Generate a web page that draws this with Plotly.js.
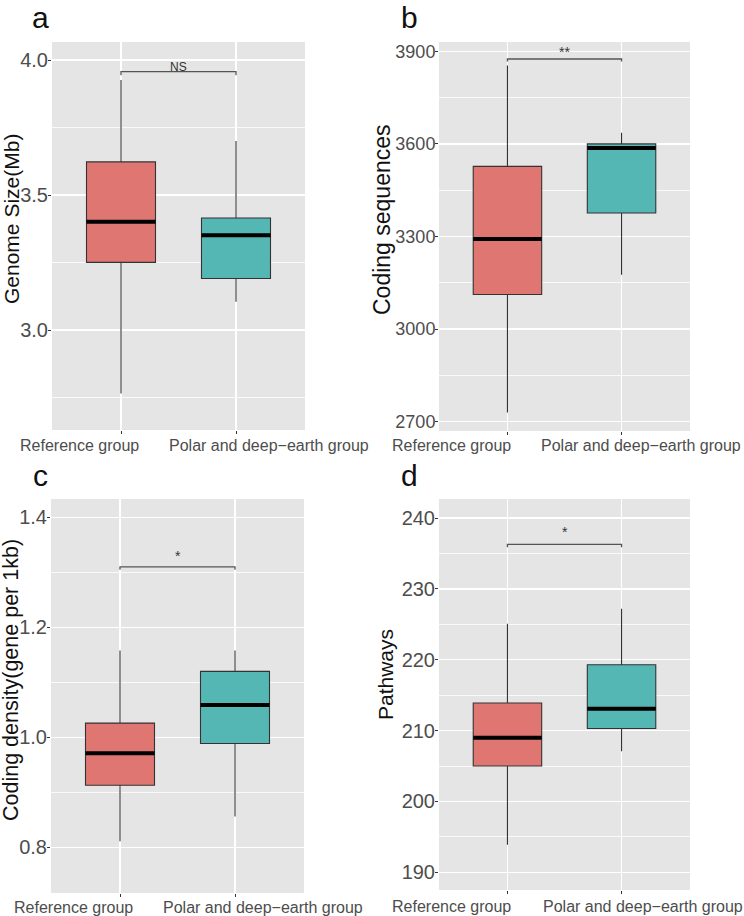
<!DOCTYPE html>
<html>
<head>
<meta charset="utf-8">
<script src="https://cdn.plot.ly/plotly-3.0.1.min.js"></script>
<style>
  body { margin: 0; background: #fff; }
  #plot { width: 744px; height: 916px; }
</style>
</head>
<body>
<div id="plot"></div>
<script>
// box stats per group: [lower whisker, q1, median, q3, upper whisker]
const groups = ['Reference group', 'Polar and deep\u2212earth group'];

const genomeRef = [2.765, 3.251, 3.401, 3.623, 3.926];
const genomePolar = [3.105, 3.191, 3.351, 3.415, 3.700];

const cdsRef = [2730, 3112, 3292, 3527, 3854];
const cdsPolar = [3176, 3376, 3587, 3600, 3636];

const densityRef = [0.811, 0.913, 0.971, 1.026, 1.158];
const densityPolar = [0.856, 0.989, 1.059, 1.120, 1.158];

const pathwaysRef = [193.9, 205.0, 209.0, 213.9, 225.1];
const pathwaysPolar = [207.1, 210.3, 213.1, 219.3, 227.2];

// significance brackets
const signif = ['NS', '**', '*', '*'];
const bracketTop = [3.957, 3875, 1.310, 236.3];
const bracketTip = [3.944, 3867, 1.305, 235.9];
const signifY = [3.975, 3898, 1.330, 238.0];

const plot = document.getElementById('plot');
const W = 744, H = 916;
const px = v => v / W;
const py = v => 1 - v / H;

const red = '#E07672';
const teal = '#55B7B4';

// panel layout (pixels)
let panels = [
  {letter: 'a', title: 'Genome Size(Mb)', ref: genomeRef, polar: genomePolar,
   range: [2.630, 4.067], dtick: 0.5, minor: 0.25, fmt: '.1f', tickSize: 20, titleSize: 21,
   xd: [52, 305], yd: [42, 430], letterPos: [40, 0], titlePos: [11, 219],
   labX: [79, 269], labY: 445},
  {letter: 'b', title: 'Coding sequences', ref: cdsRef, polar: cdsPolar,
   range: [2670, 3930], dtick: 300, minor: 150, fmt: 'd', tickSize: 18, titleSize: 23,
   xd: [439, 690], yd: [42, 431], letterPos: [410, 0], titlePos: [382, 220],
   labX: [451, 641], labY: 445},
  {letter: 'c', title: 'Coding density(gene per 1kb)', ref: densityRef, polar: densityPolar,
   range: [0.717, 1.4335], dtick: 0.2, minor: 0.1, fmt: '.1f', tickSize: 20, titleSize: 21.5,
   xd: [51, 304], yd: [499, 893], letterPos: [40, 458], titlePos: [11, 680],
   labX: [73, 263], labY: 907},
  {letter: 'd', title: 'Pathways', ref: pathwaysRef, polar: pathwaysPolar,
   range: [187.5, 242.7], dtick: 10, minor: 5, fmt: 'd', tickSize: 20, titleSize: 21,
   xd: [439, 690], yd: [499, 890], letterPos: [410, 458], titlePos: [385, 675],
   labX: [451, 643], labY: 906}
];

let traces = [];
let annotations = [];
let layout = {
  width: W,
  height: H,
  margin: {l: 0, r: 0, t: 0, b: 0},
  paper_bgcolor: '#ffffff',
  plot_bgcolor: '#E5E5E5',
  showlegend: false,
  font: {family: 'Liberation Sans, Arial, sans-serif', color: '#333'}
};

panels.forEach((p, k) => {
  let n = k === 0 ? '' : String(k + 1);
  let xa = 'x' + n, ya = 'y' + n;

  [p.ref, p.polar].forEach((s, i) => {
    traces.push({
      type: 'box', x: [i],
      lowerfence: [s[0]], q1: [s[1]], median: [s[2]], q3: [s[3]], upperfence: [s[4]],
      width: 0.6, whiskerwidth: 0, boxpoints: false,
      fillcolor: i === 0 ? red : teal,
      line: {color: '#333', width: 1.1},
      xaxis: xa, yaxis: ya, hoverinfo: 'skip'
    });
    // thick median bar
    traces.push({
      type: 'scatter', mode: 'lines',
      x: [i - 0.3, i + 0.3], y: [s[2], s[2]],
      line: {color: '#000', width: 4},
      xaxis: xa, yaxis: ya, hoverinfo: 'skip'
    });
  });

  // significance bracket
  traces.push({
    type: 'scatter', mode: 'lines',
    x: [0, 0, 1, 1], y: [bracketTip[k], bracketTop[k], bracketTop[k], bracketTip[k]],
    line: {color: '#555', width: 1.3},
    xaxis: xa, yaxis: ya, hoverinfo: 'skip'
  });
  annotations.push({
    xref: xa, yref: ya, x: 0.5, y: signifY[k], text: signif[k],
    showarrow: false, xanchor: 'center', yanchor: 'middle',
    font: {size: signif[k] === 'NS' ? 12 : 14, color: '#333'}
  });

  layout['xaxis' + n] = {
    domain: [px(p.xd[0]), px(p.xd[1])],
    anchor: ya,
    range: [-0.6, 1.6],
    tickvals: [0, 1],
    showticklabels: false,
    ticks: 'outside', ticklen: 3, tickwidth: 1, tickcolor: '#333',
    showgrid: true, gridcolor: '#ffffff', gridwidth: 1.3,
    zeroline: false, showline: false, fixedrange: true
  };
  layout['yaxis' + n] = {
    domain: [py(p.yd[1]), py(p.yd[0])],
    anchor: xa,
    range: p.range,
    tick0: 0, dtick: p.dtick, tickformat: p.fmt,
    ticks: 'outside', ticklen: 3, tickwidth: 1, tickcolor: '#333',
    ticklabelstandoff: -4,
    tickfont: {size: p.tickSize, color: '#4d4d4d'},
    showgrid: true, gridcolor: '#ffffff', gridwidth: 1.3,
    minor: {tick0: 0, dtick: p.minor, showgrid: true, gridcolor: '#ffffff', gridwidth: 0.8},
    zeroline: false, showline: false, fixedrange: true
  };

  // panel letter
  annotations.push({
    xref: 'paper', yref: 'paper', x: px(p.letterPos[0]), y: py(p.letterPos[1]),
    text: p.letter, showarrow: false, xanchor: 'center', yanchor: 'top', borderpad: 0,
    font: {size: 30, color: '#111'}
  });
  // y title
  annotations.push({
    xref: 'paper', yref: 'paper', x: px(p.titlePos[0]), y: py(p.titlePos[1]),
    text: p.title, showarrow: false, textangle: -90, xanchor: 'center', yanchor: 'middle',
    font: {size: p.titleSize, color: '#111'}
  });
  // category labels
  groups.forEach((g, i) => {
    annotations.push({
      xref: 'paper', yref: 'paper', x: px(p.labX[i]), y: py(p.labY),
      text: g, showarrow: false, xanchor: 'center', yanchor: 'middle',
      font: {size: 16, color: '#4d4d4d'}
    });
  });
});

layout.annotations = annotations;

Plotly.newPlot(plot, traces, layout, {staticPlot: true});
</script>
</body>
</html>
